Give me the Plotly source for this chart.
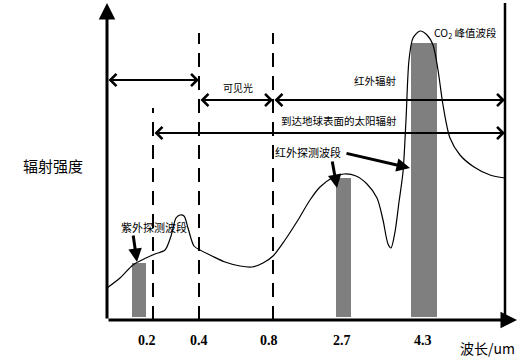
import plotly.graph_objects as go

# ---------------- data (schematic coordinates) ----------------
# vertical scale: relative radiation intensity (0 = baseline)
CURVE_X = [107, 120, 133, 146, 155, 165, 171, 176, 180, 184, 188, 194, 200, 212, 225, 240, 252, 263, 273,
           285, 298, 310, 320, 332, 344, 356, 367, 377, 383, 388, 391, 395, 399, 403, 406, 409, 413, 420,
           427, 433, 438, 443, 450, 460, 474, 490, 505]
CURVE_Y = [32, 42, 55, 62, 66, 70, 84, 102, 105, 104, 92, 74, 70, 64, 58, 54, 53, 57, 64,
           80, 100, 120, 133, 142, 146, 144, 136, 122, 100, 76, 72, 88, 118, 148, 200, 260, 282, 289,
           285, 275, 250, 215, 182, 165, 153, 145, 142]

BAND_NAMES = ["紫外探测波段", "红外探测波段", "CO₂峰值波段"]
BAND_LEFT = [132, 336, 411]
BAND_RIGHT = [146, 351, 437]
BAND_TOP = [57, 142, 277]

TICK_LABELS = ["0.2", "0.4", "0.8", "2.7", "4.3"]
TICK_POS = [147, 199, 269, 342, 423]
DIVIDER_POS = [153, 199, 273]        # dashed boundaries at 0.2, 0.4, 0.8
DIVIDER_TOP = [212, 287, 287]

# ---------------- figure ----------------
fig = go.Figure()

centers = [(l + r) / 2 for l, r in zip(BAND_LEFT, BAND_RIGHT)]
widths = [r - l for l, r in zip(BAND_LEFT, BAND_RIGHT)]
fig.add_trace(go.Bar(x=centers, y=[t - 3 for t in BAND_TOP], base=3, width=widths,
                     marker=dict(color="#7f7f7f", line=dict(width=0)),
                     hoverinfo="skip", showlegend=False))

fig.add_trace(go.Scatter(x=CURVE_X, y=CURVE_Y, mode="lines",
                         line=dict(color="black", width=1.2, shape="spline", smoothing=0.8),
                         hoverinfo="skip", showlegend=False))

for xp, top in zip(DIVIDER_POS, DIVIDER_TOP):
    fig.add_trace(go.Scatter(x=[xp, xp], y=[0, top], mode="lines",
                             line=dict(color="black", width=2, dash="14px,9px"),
                             hoverinfo="skip", showlegend=False))

ann = []
AX = dict(xref="x", yref="y", axref="x", ayref="y", showarrow=True, text="", standoff=0,
          startstandoff=0, arrowcolor="black")

# axes
ann.append(dict(AX, x=107, y=317, ax=107, ay=0, arrowhead=2, arrowwidth=3, arrowsize=1.1))
ann.append(dict(AX, x=517, y=0, ax=107, ay=0, arrowhead=2, arrowwidth=3, arrowsize=1.1))
fig.add_trace(go.Scatter(x=[505, 505], y=[0, 317], mode="lines", line=dict(color="black", width=2.5),
                         hoverinfo="skip", showlegend=False))

# range arrows
def rng(x0, x1, y):
    return dict(AX, x=x1, y=y, ax=x0, ay=y, arrowhead=4, startarrowhead=4, arrowside="end+start",
                arrowwidth=1.8, arrowsize=1.3, startarrowsize=1.3)

ann.append(rng(107, 199, 240))
ann.append(rng(199, 273, 220))
ann.append(rng(273, 505, 220))
ann.append(rng(153, 505, 187))

# pointer arrows
for hx, hy, tx, ty in [(137, 58, 133, 86), (337, 132, 332, 160), (410, 152, 345, 167)]:
    ann.append(dict(AX, x=hx, y=hy, ax=tx, ay=ty, arrowhead=2, arrowwidth=3, arrowsize=0.9))

CJK = "Noto Sans CJK SC"
def txt(x, y, s, size, family=CJK, **kw):
    d = dict(xref="x", yref="y", x=x, y=y, text=s, showarrow=False,
             font=dict(family=family, size=size, color="black"))
    d.update(kw)
    return d

ann.append(txt(53, 155, "辐射强度", 15))
ann.append(txt(238, 233, "可见光", 10))
ann.append(txt(375, 240, "红外辐射", 10.5))
ann.append(txt(339, 200, "到达地球表面的太阳辐射", 10.5))
ann.append(txt(308, 168, "红外探测波段", 11))
ann.append(txt(154, 93, "紫外探测波段", 11))
ann.append(txt(465, 287, "CO<sub>2</sub> 峰值波段", 10.5))
ann.append(txt(487, -28, "波长/um", 14))
for lab, xp in zip(TICK_LABELS, TICK_POS):
    ann.append(txt(xp, -20, "<b>" + lab + "</b>", 14, family="Liberation Serif"))

fig.update_layout(
    width=530, height=360, margin=dict(l=0, r=0, t=0, b=0),
    paper_bgcolor="white", plot_bgcolor="white",
    xaxis=dict(range=[0, 530], visible=False, fixedrange=True),
    yaxis=dict(range=[-40, 320], visible=False, fixedrange=True),
    annotations=ann, bargap=0, showlegend=False,
)

fig.write_html("out.html", config={"displayModeBar": False},
               post_script="document.body.style.margin='0';")
